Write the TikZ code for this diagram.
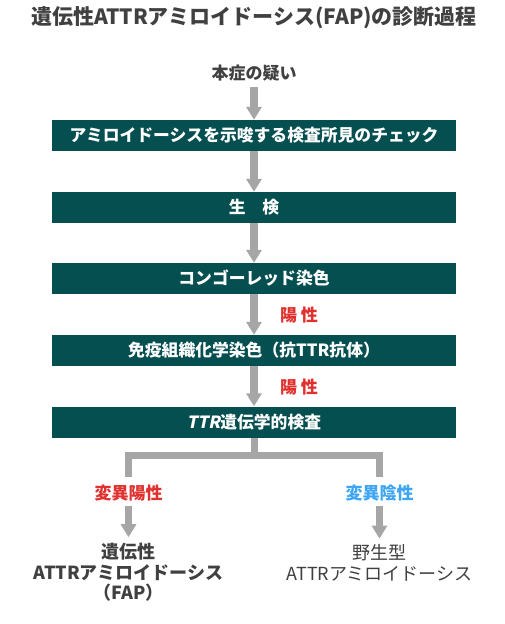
\documentclass[tikz,border=0pt]{standalone}
\usepackage{fontspec}
\setmainfont{Noto Sans CJK JP}
\usetikzlibrary{arrows.meta}
\definecolor{teal}{HTML}{064F51}
\definecolor{arrgrey}{HTML}{A6A6A6}
\definecolor{txtgrey}{HTML}{404040}
\definecolor{posred}{HTML}{E0312E}
\definecolor{negblue}{HTML}{3DA5F4}
\tikzset{
  stepbox/.style={fill=teal, text=white, minimum width=404pt, minimum height=31pt, inner sep=0pt,
    font=\fontsize{16.8pt}{20pt}\selectfont\bfseries},
  arr/.style={draw=arrgrey, line width=7.5pt, -{Triangle[width=15pt,length=13pt]}},
  branch/.style={draw=arrgrey, line width=7pt, line join=miter},
  lbl/.style={inner sep=0pt, font=\fontsize{17pt}{20pt}\selectfont\bfseries},
}
\begin{document}
\begin{tikzpicture}[x=1pt,y=-1pt]
\useasboundingbox (0,0) rectangle (504,624);
\node[inner sep=0pt, text=txtgrey, font=\fontsize{21pt}{24pt}\selectfont\bfseries] (title) at (254,18) {遺伝性ATTRアミロイドーシス(FAP)の診断過程};
\node[lbl, text=txtgrey] (q) at (254,73) {本症の疑い};
\node[stepbox] (b1) at (254,135.5) {アミロイドーシスを示唆する検査所見のチェック};
\node[stepbox] (b2) at (254,207.5) {生　検};
\node[stepbox] (b3) at (254,278.5) {コンゴーレッド染色};
\node[stepbox] (b4) at (254,350.5) {免疫組織化学染色（抗TTR抗体）};
\node[stepbox] (b5) at (254,422) {{\addfontfeatures{FakeSlant=0.2}TTR}遺伝学的検査};
\node[lbl, text=posred] (p1) at (299,315) {陽 性};
\node[lbl, text=posred] (p2) at (299,387) {陽 性};
\coordinate (jn) at (254,455);
\coordinate (lt) at (128.5,477);
\coordinate (rt) at (379.5,477);
\node[lbl, text=posred] (lpos) at (128.5,493) {変異陽性};
\node[lbl, text=negblue] (lneg) at (379.5,493) {変異陰性};
\node[inner sep=0pt, text=txtgrey, align=center, font=\fontsize{18pt}{20.5pt}\selectfont\bfseries] (resl) at (128.5,572.5) {遺伝性\\ATTRアミロイドーシス\\（FAP）};
\node[inner sep=0pt, text=txtgrey, align=center, font=\fontsize{18pt}{20.5pt}\selectfont] (resr) at (379.5,563) {野生型\\ATTRアミロイドーシス};
\draw[arr, shorten <=6pt] (q.south) -- (b1.north);
\draw[arr] (b1.south) -- (b2.north);
\draw[arr] (b2.south) -- (b3.north);
\draw[arr] (b3.south) -- (b4.north);
\draw[arr] (b4.south) -- (b5.north);
\draw[branch] (b5.south) -- (jn);
\draw[branch] (lt) -- (lt |- jn) -- (rt |- jn) -- (rt);
\draw[arr, shorten <=5pt, shorten >=6pt] (lpos.south) -- (resl.north);
\draw[arr, shorten <=5pt, shorten >=6pt] (lneg.south) -- (resr.north);
\end{tikzpicture}
\end{document}
